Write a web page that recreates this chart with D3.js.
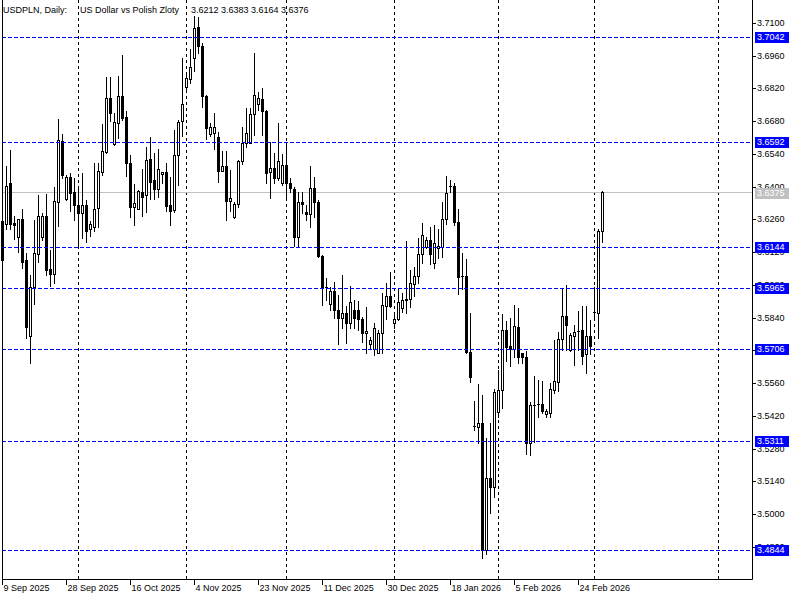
<!DOCTYPE html>
<html><head><meta charset="utf-8">
<script src="https://cdn.jsdelivr.net/npm/d3@7"></script>
<style>
body{margin:0;background:#fff}
svg{display:block}
text{font-family:"Liberation Sans",Arial,sans-serif;font-size:9px}
</style>
</head><body>
<svg id="chart" width="800" height="600"></svg>
<script>
const open = [3.6253,3.6240,3.6414,3.6245,3.6183,3.6260,3.6086,3.5763,3.5970,3.6112,3.6183,3.6275,3.6048,3.6025,3.6336,3.6597,3.6349,3.6441,3.6376,3.6320,
3.6286,3.6320,3.6218,3.6229,3.6307,3.6464,3.6550,3.6778,3.6581,3.6671,3.6786,3.6697,3.6502,3.6314,3.6306,3.6378,3.6364,3.6517,3.6428,3.6389,
3.6454,3.6461,3.6322,3.6300,3.6535,3.6681,3.6828,3.6861,3.6952,3.7082,3.7002,3.6788,3.6625,3.6628,3.6611,3.6468,3.6488,3.6340,3.6269,3.6325,
3.6510,3.6585,3.6588,3.6711,3.6752,3.6774,3.6724,3.6464,3.6479,3.6438,3.6417,3.6493,3.6414,3.6389,3.6186,3.6333,3.6293,3.6282,3.6393,3.6336,
3.6103,3.5972,3.5898,3.5954,3.5872,3.5837,3.5861,3.5818,3.5872,3.5872,3.5833,3.5773,3.5726,3.5704,3.5690,3.5775,3.5891,3.5932,3.5816,3.5833,
3.5882,3.5918,3.5918,3.5984,3.6018,3.6111,3.6141,3.6172,3.6072,3.6139,3.6141,3.6260,3.6403,3.6403,3.6248,3.6018,3.6018,3.5694,3.5376,3.5371,
3.5388,3.4846,3.5153,3.5117,3.5437,3.5530,3.5787,3.5718,3.5704,3.5801,3.5690,3.5670,3.5302,3.5466,3.5469,3.5469,3.5426,3.5433,3.5530,3.5566,
3.5747,3.5847,3.5701,3.5763,3.5784,3.5787,3.5683,3.5763,3.5863,3.5858,3.6212];
const high = [3.6283,3.6490,3.6557,3.6275,3.6262,3.6303,3.6115,3.6022,3.6257,3.6364,3.6289,3.6369,3.6129,3.6400,3.6689,3.6624,3.6450,3.6460,3.6437,3.6400,
3.6457,3.6343,3.6252,3.6500,3.6502,3.6668,3.6870,3.6868,3.6714,3.6873,3.6963,3.6725,3.6535,3.6411,3.6386,3.6476,3.6571,3.6614,3.6543,3.6561,
3.6464,3.6500,3.6443,3.6642,3.6685,3.6949,3.6892,3.6988,3.7130,3.7124,3.7013,3.6792,3.6674,3.6716,3.6635,3.6553,3.6553,3.6471,3.6336,3.6514,
3.6656,3.6735,3.6735,3.6970,3.6806,3.6823,3.6728,3.6592,3.6543,3.6671,3.6540,3.6588,3.6437,3.6399,3.6376,3.6377,3.6322,3.6488,3.6443,3.6343,
3.6108,3.6008,3.5972,3.5994,3.5937,3.6022,3.5890,3.5975,3.5915,3.5912,3.5844,3.5887,3.5758,3.5816,3.5787,3.5944,3.5987,3.6036,3.5858,3.5965,
3.5945,3.6168,3.6044,3.6058,3.6179,3.6243,3.6186,3.6229,3.6236,3.6218,3.6336,3.6446,3.6429,3.6414,3.6303,3.6115,3.6089,3.5858,3.5483,3.5555,
3.5509,3.5324,3.5388,3.5533,3.5616,3.5855,3.5825,3.5837,3.5894,3.5880,3.5690,3.5697,3.5480,3.5590,3.5573,3.5569,3.5449,3.5559,3.5744,3.5777,
3.5965,3.5979,3.5773,3.5808,3.5869,3.5890,3.5890,3.5830,3.5972,3.6218,3.6383];
const low = [3.6078,3.6218,3.6219,3.6178,3.6122,3.6051,3.5751,3.5647,3.5898,3.6079,3.6172,3.6022,3.5975,3.5987,3.6233,3.6438,3.6343,3.6297,3.6257,3.6150,
3.6179,3.6165,3.6189,3.6212,3.6229,3.6450,3.6543,3.6682,3.6578,3.6607,3.6685,3.6447,3.6272,3.6237,3.6303,3.6275,3.6290,3.6349,3.6346,3.6357,
3.6414,3.6296,3.6237,3.6293,3.6407,3.6618,3.6806,3.6845,3.6895,3.6970,3.6742,3.6603,3.6617,3.6560,3.6421,3.6465,3.6257,3.6296,3.6265,3.6314,
3.6496,3.6568,3.6585,3.6621,3.6728,3.6621,3.6417,3.6350,3.6417,3.6428,3.6407,3.6357,3.6377,3.6146,3.6146,3.6286,3.6257,3.6229,3.6272,3.6100,
3.5894,3.5915,3.5872,3.5837,3.5726,3.5794,3.5730,3.5794,3.5794,3.5787,3.5737,3.5690,3.5709,3.5680,3.5687,3.5690,3.5833,3.5887,3.5794,3.5830,
3.5863,3.5858,3.5887,3.5932,3.5987,3.6072,3.6136,3.6069,3.6051,3.6094,3.6098,3.6239,3.6378,3.6236,3.5940,3.5961,3.5690,3.5566,3.5359,3.5305,
3.4810,3.4828,3.5003,3.5074,3.5416,3.5452,3.5656,3.5633,3.5673,3.5647,3.5647,3.5257,3.5252,3.5309,3.5414,3.5431,3.5416,3.5416,3.5516,3.5527,
3.5701,3.5701,3.5698,3.5637,3.5701,3.5641,3.5602,3.5684,3.5844,3.5754,3.6164];
const close = [3.6086,3.6403,3.6240,3.6237,3.6260,3.6079,3.5801,3.5970,3.6115,3.6275,3.6275,3.6044,3.6025,3.6339,3.6600,3.6450,3.6441,3.6374,3.6320,3.6286,
3.6320,3.6212,3.6240,3.6303,3.6467,3.6553,3.6778,3.6714,3.6675,3.6786,3.6692,3.6502,3.6314,3.6329,3.6381,3.6357,3.6514,3.6421,3.6389,3.6474,
3.6461,3.6319,3.6297,3.6535,3.6675,3.6752,3.6864,3.6911,3.7077,3.7002,3.6788,3.6650,3.6656,3.6654,3.6468,3.6488,3.6340,3.6350,3.6326,3.6510,
3.6585,3.6628,3.6711,3.6792,3.6778,3.6724,3.6457,3.6479,3.6438,3.6510,3.6493,3.6414,3.6393,3.6186,3.6333,3.6325,3.6282,3.6393,3.6336,3.6103,
3.5972,3.5970,3.5954,3.5872,3.5837,3.5858,3.5818,3.5905,3.5837,3.5833,3.5773,3.5783,3.5744,3.5794,3.5775,3.5894,3.5932,3.5890,3.5833,3.5908,
3.5915,3.5915,3.5987,3.6018,3.6111,3.6193,3.6172,3.6111,3.6158,3.6146,3.6260,3.6374,3.6403,3.6248,3.6015,3.6018,3.5694,3.5587,3.5376,3.5388,
3.4846,3.5153,3.5117,3.5520,3.5530,3.5787,3.5715,3.5704,3.5804,3.5673,3.5670,3.5302,3.5465,3.5466,3.5469,3.5442,3.5442,3.5533,3.5569,3.5747,
3.5847,3.5808,3.5766,3.5780,3.5784,3.5677,3.5763,3.5718,3.5863,3.6212,3.6376];

const dateLabels = ["9 Sep 2025","28 Sep 2025","16 Oct 2025","4 Nov 2025","23 Nov 2025","11 Dec 2025","30 Dec 2025","18 Jan 2026","5 Feb 2026","24 Feb 2026"];
const dateLabelBars = [0,16,32,48,64,80,96,112,128,144];
const monthStartBars = [19,46,71,98,124,148,179];
const levels = [3.7042,3.6592,3.6144,3.5965,3.5706,3.5311,3.4844];
const yTicks = [3.7100,3.6960,3.6820,3.6680,3.6540,3.6400,3.6260,3.6120,3.5980,3.5840,3.5700,3.5560,3.5420,3.5280,3.5140,3.5000,3.4860];
const bidLabel = 3.6375;
const titleParts = ["USDPLN, Daily:","US Dollar vs Polish Zloty"];

const svg = d3.select("#chart");
const W = 800, H = 600, left = 2, right = 752, bottom = 579;
svg.append("rect").attr("width",W).attr("height",H).attr("fill","#fff");

const x = d3.scaleLinear().domain([0,187.5]).range([left,right]);
const y = d3.scaleLinear().domain([3.486,3.71]).range([546.7,23]).interpolate(d3.interpolateRound);

// vertical grid
svg.append("g").selectAll("line").data(monthStartBars).join("line")
  .attr("x1",d=>x(d)+0.5).attr("x2",d=>x(d)+0.5).attr("y1",0).attr("y2",bottom)
  .attr("stroke","#000").attr("stroke-dasharray","3,3");

// bid line
svg.append("line").attr("x1",left).attr("x2",right).attr("y1",y(close[close.length-1])+0.5).attr("y2",y(close[close.length-1])+0.5)
  .attr("stroke","#c0c0c0");

// candles
const idx = d3.range(open.length);
const gC = svg.append("g");
gC.selectAll("line.wick").data(idx).join("line").attr("class","wick")
  .attr("x1",i=>x(i)+0.5).attr("x2",i=>x(i)+0.5)
  .attr("y1",i=>y(high[i])).attr("y2",i=>y(low[i])+1)
  .attr("stroke","#000");
gC.selectAll("rect.body").data(idx.filter(i=>y(open[i])!==y(close[i]))).join("rect").attr("class","body")
  .attr("x",i=>x(i)-0.5).attr("width",2)
  .attr("y",i=>Math.min(y(open[i]),y(close[i]))+0.5)
  .attr("height",i=>Math.abs(y(open[i])-y(close[i])))
  .attr("fill",i=>close[i]>open[i]?"#fff":"#000").attr("stroke","#000");
gC.selectAll("line.doji").data(idx.filter(i=>y(open[i])===y(close[i]))).join("line").attr("class","doji")
  .attr("x1",i=>x(i)-1).attr("x2",i=>x(i)+2)
  .attr("y1",i=>y(open[i])+0.5).attr("y2",i=>y(open[i])+0.5)
  .attr("stroke","#000");

// levels
svg.append("g").selectAll("line").data(levels).join("line")
  .attr("x1",left).attr("x2",right).attr("y1",d=>y(d)+0.5).attr("y2",d=>y(d)+0.5)
  .attr("stroke","#0000ff").attr("stroke-dasharray","4,2");

// frame
svg.append("path").attr("d",`M${left+0.5},0V${bottom+0.5}H${right+0.5}V0`).attr("fill","none").attr("stroke","#000");

// y axis
const ya = svg.append("g").attr("transform",`translate(${right},0)`)
  .call(d3.axisRight(y).tickValues(yTicks).tickSize(4).tickPadding(1).tickFormat(d3.format(".4f")));
ya.select(".domain").remove();
ya.selectAll("text").attr("font-size",9).attr("font-family","Liberation Sans, Arial, sans-serif").attr("fill","#000");

// x axis
const xa = svg.append("g").attr("transform",`translate(0,${bottom})`)
  .call(d3.axisBottom(x).tickValues(dateLabelBars).tickSize(6).tickPadding(0).tickFormat((d,i)=>dateLabels[i]));
xa.select(".domain").remove();
xa.selectAll("text").attr("text-anchor","start").attr("x",1).attr("font-size",9)
  .attr("font-family","Liberation Sans, Arial, sans-serif").attr("fill","#000");

// level labels
const gl = svg.append("g").selectAll("g").data(levels).join("g")
  .attr("transform",d=>`translate(755,${y(d)})`);
gl.append("rect").attr("x",0).attr("y",-5).attr("width",34).attr("height",11).attr("fill","#0000ff");
gl.append("text").attr("x",2).attr("y",0.5).attr("dy","0.32em").attr("fill","#fff").text(d=>d.toFixed(4));

// bid label
const gb = svg.append("g").attr("transform",`translate(755,${y(bidLabel)})`);
gb.append("rect").attr("x",0).attr("y",-5).attr("width",34).attr("height",11).attr("fill","#c0c0c0");
gb.append("text").attr("x",2).attr("y",0.5).attr("dy","0.32em").attr("fill","#fff").text(bidLabel.toFixed(4));

// title
const n = open.length-1;
svg.append("text").attr("x",3).attr("y",13).text(titleParts[0]);
svg.append("text").attr("x",80).attr("y",13).text(titleParts[1]);
svg.append("text").attr("x",191).attr("y",13)
  .text([open[n],high[n],low[n],close[n]].map(v=>v.toFixed(4)).join(" "));
</script>
</body></html>
